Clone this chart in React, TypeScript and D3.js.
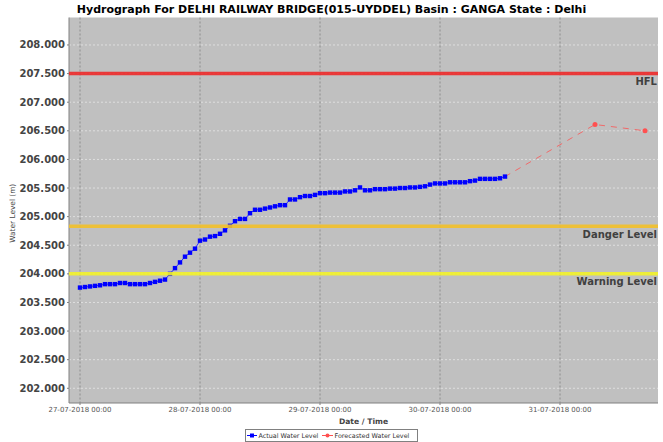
import React from "react";
import * as d3 from "d3";

const TITLE = "Hydrograph For DELHI RAILWAY BRIDGE(015-UYDDEL) Basin : GANGA State : Delhi";

// Actual hourly water levels starting 27-07-2018 00:00
const actualStart = "2018-07-27T00:00:00";
const actualLevels = [
  203.76, 203.77, 203.78, 203.79, 203.8, 203.82, 203.82, 203.82, 203.84, 203.84,
  203.82, 203.82, 203.82, 203.82, 203.84, 203.86, 203.88, 203.9, 204.0, 204.1,
  204.2, 204.3, 204.37, 204.44, 204.58, 204.6, 204.65, 204.66, 204.7, 204.76,
  204.84, 204.92, 204.96, 204.96, 205.06, 205.12, 205.12, 205.14, 205.16, 205.18,
  205.2, 205.2, 205.3, 205.3, 205.34, 205.36, 205.36, 205.38, 205.41, 205.41,
  205.42, 205.42, 205.42, 205.44, 205.44, 205.46, 205.51, 205.46, 205.46, 205.48,
  205.48, 205.48, 205.49, 205.49, 205.5, 205.5, 205.51, 205.51, 205.52, 205.53,
  205.56, 205.58, 205.58, 205.58, 205.6, 205.6, 205.6, 205.6, 205.62, 205.63,
  205.66, 205.66, 205.66, 205.66, 205.67, 205.7,
];

const forecastTimes = ["2018-07-30T13:00:00", "2018-07-31T07:00:00", "2018-07-31T17:00:00"];
const forecastLevels = [205.7, 206.61, 206.5];

const levelNames = ["HFL", "Danger Level", "Warning Level"];
const levelValues = [207.5, 204.83, 204.0];
const levelColors = ["#ee2a2a", "#f2c12a", "#f2f22a"];

const yTicks = [202, 202.5, 203, 203.5, 204, 204.5, 205, 205.5, 206, 206.5, 207, 207.5, 208];
const xTickDates = ["2018-07-27T00:00:00", "2018-07-28T00:00:00", "2018-07-29T00:00:00", "2018-07-30T00:00:00", "2018-07-31T00:00:00"];

const xDomain = ["2018-07-26T21:48:00", "2018-07-31T19:36:00"];
const yDomain = [201.743, 208.48];

const W = 663;
const H = 442;
const M = { left: 69, right: 658, top: 17.5, bottom: 403 };
const FONT = "DejaVu Sans, sans-serif";

export default function App() {
  const x = d3.scaleTime().domain(xDomain.map((s) => new Date(s))).range([M.left, M.right]);
  const y = d3.scaleLinear().domain(yDomain).range([M.bottom, M.top]);
  const t0 = new Date(actualStart).getTime();
  const actual = actualLevels.map((v, i) => ({ t: new Date(t0 + i * 3600000), v }));
  const forecast = forecastLevels.map((v, i) => ({ t: new Date(forecastTimes[i]), v }));
  const line = d3.line<{ t: Date; v: number }>().x((d) => x(d.t)).y((d) => y(d.v));
  const fmt = d3.timeFormat("%d-%m-%Y %H:%M");
  const yFmt = d3.format(".3f");

  return (
    <svg width={W} height={H} style={{ position: "absolute", left: 0, top: 0, background: "#fff" }} fontFamily={FONT}>
      <text x={W / 2} y={13} textAnchor="middle" fontSize={11} fontWeight="bold" fill="#000">
        {TITLE}
      </text>
      <rect x={M.left} y={M.top} width={M.right - M.left} height={M.bottom - M.top} fill="#c0c0c0" />
      {yTicks.map((t) => (
        <line key={"hg" + t} x1={M.left} x2={M.right} y1={y(t)} y2={y(t)} stroke="#e6e6e6" strokeWidth={0.8} strokeDasharray="2,2" />
      ))}
      {xTickDates.map((s) => (
        <line key={"vg" + s} x1={x(new Date(s))} x2={x(new Date(s))} y1={M.top} y2={M.bottom} stroke="#808080" strokeWidth={0.8} strokeDasharray="2,2" />
      ))}
      {/* axes */}
      <line x1={M.left} x2={M.left} y1={M.top} y2={M.bottom} stroke="#808080" strokeWidth={1} />
      <line x1={M.left} x2={M.right} y1={M.bottom} y2={M.bottom} stroke="#808080" strokeWidth={1} />
      {yTicks.map((t) => (
        <g key={"yt" + t}>
          <line x1={M.left - 2} x2={M.left} y1={y(t)} y2={y(t)} stroke="#808080" />
          <text x={M.left - 4} y={y(t) + 3.5} textAnchor="end" fontSize={10} fontWeight="bold" fill="#444">
            {yFmt(t)}
          </text>
        </g>
      ))}
      {xTickDates.map((s) => {
        const d = new Date(s);
        return (
          <g key={"xt" + s}>
            <line x1={x(d)} x2={x(d)} y1={M.bottom} y2={M.bottom + 2} stroke="#808080" />
            <text x={x(d)} y={412} textAnchor="middle" fontSize={7} fill="#555">
              {fmt(d)}
            </text>
          </g>
        );
      })}
      <text x={(M.left + M.right) / 2} y={424} textAnchor="middle" fontSize={7.6} fontWeight="bold" fill="#444">
        Date / Time
      </text>
      <text transform={`translate(14.5, ${(M.top + M.bottom) / 2 + 3}) rotate(-90)`} textAnchor="middle" fontSize={7.4} fill="#444">
        Water Level (m)
      </text>
      {/* series */}
      <path d={line(forecast) || ""} fill="none" stroke="#f06a6a" strokeWidth={1} strokeDasharray="6,6" />
      {forecast.slice(1).map((d, i) => (
        <circle key={"f" + i} cx={x(d.t)} cy={y(d.v)} r={2.5} fill="#ff5050" />
      ))}
      <path d={line(actual) || ""} fill="none" stroke="#3030ff" strokeWidth={1} />
      {actual.map((d, i) => (
        <rect key={"a" + i} x={x(d.t) - 2.2} y={y(d.v) - 2.2} width={4.4} height={4.4} fill="#0000ff" />
      ))}
      {/* level markers */}
      {levelValues.map((v, i) => (
        <g key={"lv" + i}>
          <line x1={M.left} x2={M.right} y1={y(v)} y2={y(v)} stroke={levelColors[i]} strokeWidth={3.5} opacity={0.9} />
          <text x={M.right - 1} y={y(v) + 11.3} textAnchor="end" fontSize={10} fontWeight="bold" fill="#404040">
            {levelNames[i]}
          </text>
        </g>
      ))}
      {/* legend */}
      <rect x={245.5} y={429.5} width={172} height={12} fill="#fff" stroke="#808080" strokeWidth={1} />
      <line x1={247} x2={257} y1={435.5} y2={435.5} stroke="#0000ff" />
      <rect x={250} y={433.5} width={4} height={4} fill="#0000ff" />
      <text x={258.5} y={438} fontSize={6.4} fill="#333">Actual Water Level</text>
      <line x1={322} x2={333} y1={435.5} y2={435.5} stroke="#ff5050" />
      <circle cx={327.5} cy={435.5} r={2} fill="#ff5050" />
      <text x={334.5} y={438} fontSize={6.4} fill="#333">Forecasted Water Level</text>
    </svg>
  );
}
